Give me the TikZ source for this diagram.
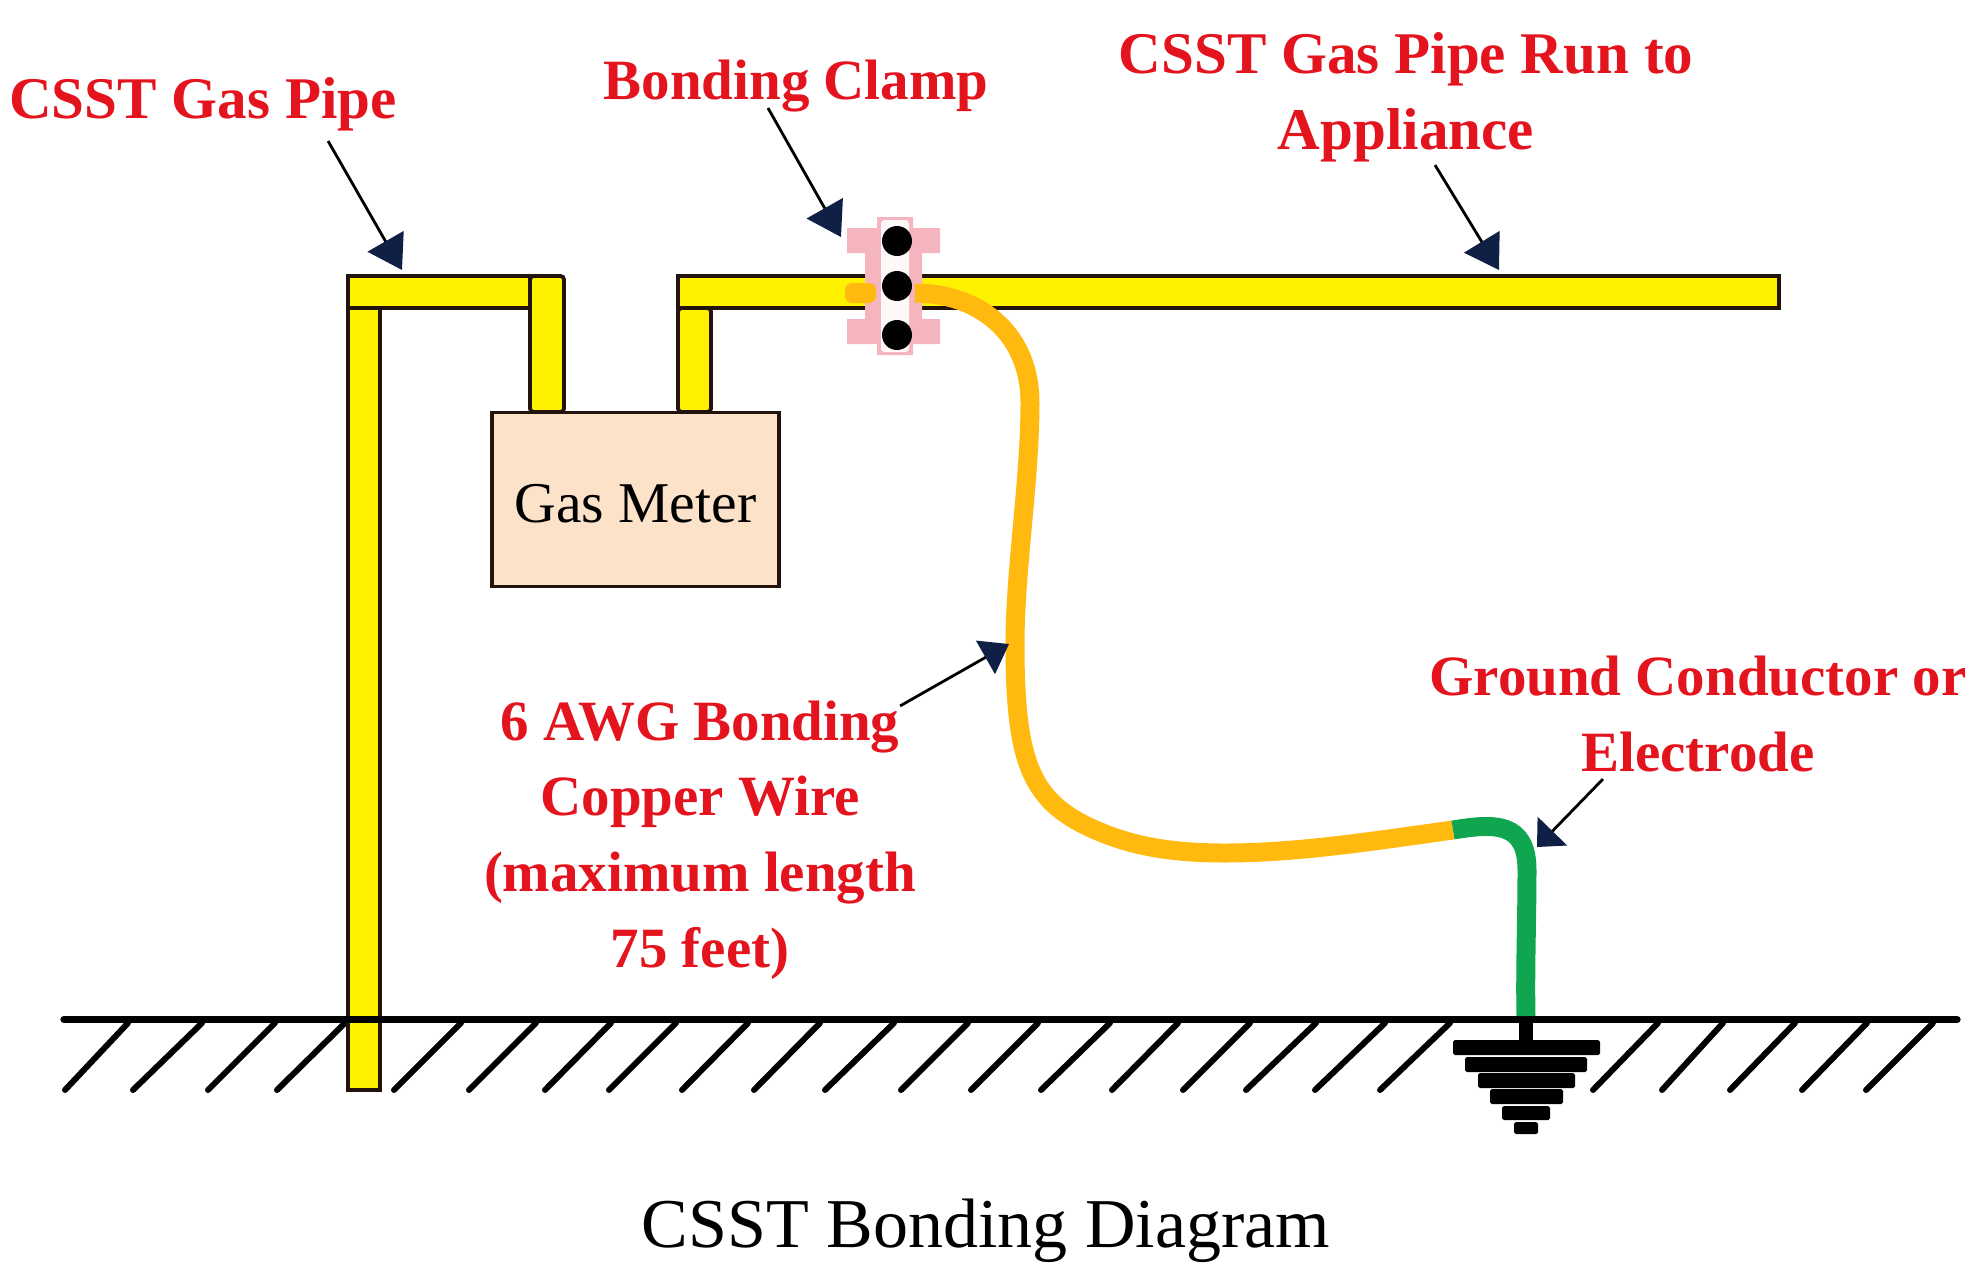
\documentclass[tikz,border=0pt]{standalone}
\usepackage{fontspec}
\setmainfont{Liberation Serif}
\usetikzlibrary{arrows.meta,calc}
\definecolor{pipeyellow}{HTML}{FFF200}
\definecolor{pipeedge}{HTML}{22140C}
\definecolor{wireorange}{HTML}{FFB90F}
\definecolor{wiregreen}{HTML}{10A650}
\definecolor{meterfill}{HTML}{FBE2C8}
\definecolor{clamppink}{HTML}{F5B5BF}
\definecolor{labelred}{HTML}{E3141E}
\definecolor{tipnavy}{HTML}{0F1F45}

\begin{document}
\begin{tikzpicture}[x=0.01cm,y=-0.01cm,
  >={Triangle[length=9.4pt,width=11.7pt,color=tipnavy]},
  pipe/.style={draw=pipeedge,fill=pipeyellow,line width=1.1pt},
  wire/.style={line width=5.4pt,wireorange},
  hatch/.style={black,line width=1.7pt,line cap=round},
  callout/.style={->,black,line width=0.8pt},
  lab/.style={font=\fontsize{16.8}{21.5}\selectfont\bfseries,text=labelred,align=center,inner sep=0pt},
  slab/.style={lab,font=\fontsize{16.2}{21.5}\selectfont\bfseries}]
  \useasboundingbox (0,0) rectangle (1987,1269);
  % hatching under the ground line
  \foreach \t/\b in {128/65,202/133,275/208,345/277,461/394,536/469,611/545,676/609,748/682,820/754,894/825,968/901,
    1038/971,1110/1041,1178/1112,1250/1183,1316/1246,1385/1315,1450/1380,1658/1593,1723/1662,1795/1730,1867/1802,1933/1866}
    \draw[hatch] (\t,1023) -- (\b,1090);
  % meter and the yellow pipe runs
  \node[draw=pipeedge,fill=meterfill,line width=1.1pt,minimum width=2.86cm,minimum height=1.74cm,inner sep=0pt,
    text height=12.8pt,text depth=0pt,font=\fontsize{16.4}{20}\selectfont] (meter) at (635.5,499.5) {Gas Meter};
  \draw[pipe] (348,276) rectangle (530,308);
  \draw[pipe] (348,308) rectangle (380,1090);
  \draw[pipe,rounded corners=1pt] (530,276) rectangle (564,412);
  \draw[pipe,rounded corners=1pt] (678,308) rectangle (711,412);
  \draw[pipe] (678,276) rectangle (1779,308);
  % ground line and rod
  \draw[black,line width=2.1pt,line cap=round] (64,1019.5) -- (1957,1019.5);
  \fill[black] (1519,1015) rectangle (1533,1042);
  \foreach \l/\r/\u/\d in {1453/1600/1040/1055,1465/1587/1057/1072,1478/1575/1073/1088,
    1490/1563/1089/1104,1502/1550/1106/1120,1514/1538/1122/1134}
    \fill[black,rounded corners=0.5pt] (\l,\u) rectangle (\r,\d);
  % clamp body with its three bolts
  \fill[clamppink] (847,228) -- (877,228) -- (877,217) -- (913,217) -- (913,228) -- (940,228) -- (940,253) -- (922,253)
    -- (922,319) -- (940,319) -- (940,344) -- (913,344) -- (913,355) -- (877,355) -- (877,344) -- (847,344) -- (847,319)
    -- (865,319) -- (865,253) -- (847,253) -- cycle;
  \fill[white!90!clamppink,rounded corners=1pt] (881,220) rectangle (909,352);
  \foreach \y in {241,286,335} \fill[black] (897,\y) circle (15);
  % bonding wire
  \fill[wireorange,rounded corners=2pt] (845,283) rectangle (876,303);
  \draw[wire] (915,293) .. controls (975,293) and (1030,330) .. (1030,403)
    .. controls (1030,480) and (1015,570) .. (1015,644)
    .. controls (1015,760) and (1030,800) .. (1091,828)
    .. controls (1130,846) and (1170,853) .. (1225,853)
    .. controls (1300,853) and (1380,840) .. (1453,830);
  \draw[wire,wiregreen] (1453,830) .. controls (1495,823) and (1527,822) .. (1527,870)
    .. controls (1527,920) and (1525,970) .. (1526,1016);
  % labels and their arrows
  \node[lab] (pipelab) at (203,104) {CSST Gas Pipe};
  \node[slab] (clamplab) at (796,86) {Bonding Clamp};
  \node[lab] (runlab) at (1406,97) {CSST Gas Pipe Run to\\Appliance};
  \node[slab] (wirelab) at (700,840) {6 AWG Bonding\\Copper Wire\\(maximum length\\75 feet)};
  \node[slab] (groundlab) at (1698,714) {Ground Conductor or\\Electrode};
  \coordinate (pipetip) at (402,270);
  \coordinate (clamptip) at (841,237);
  \coordinate (runtip) at (1499,270);
  \coordinate (wiretip) at (1009,644);
  \coordinate (groundtip) at (1537,847);
  \draw[callout] ([xshift=1.25cm,yshift=-0.37cm]pipelab.center) -- (pipetip);
  \draw[callout] ([xshift=-0.28cm,yshift=-0.22cm]clamplab.center) -- (clamptip);
  \draw[callout] ([xshift=0.29cm,yshift=-0.68cm]runlab.center) -- (runtip);
  \draw[callout,-{Triangle[length=7.7pt,width=10.8pt,color=tipnavy]}] ([xshift=2cm,yshift=1.34cm]wirelab.center) -- (wiretip);
  \draw[callout,-{Triangle[length=6.3pt,width=11.6pt,color=tipnavy]}] ([xshift=-0.95cm,yshift=-0.65cm]groundlab.center) -- (groundtip);
  \node[font=\fontsize{19.9}{24}\selectfont,inner sep=0pt] (title) at (986,1231) {CSST Bonding Diagram};
\end{tikzpicture}
\end{document}
